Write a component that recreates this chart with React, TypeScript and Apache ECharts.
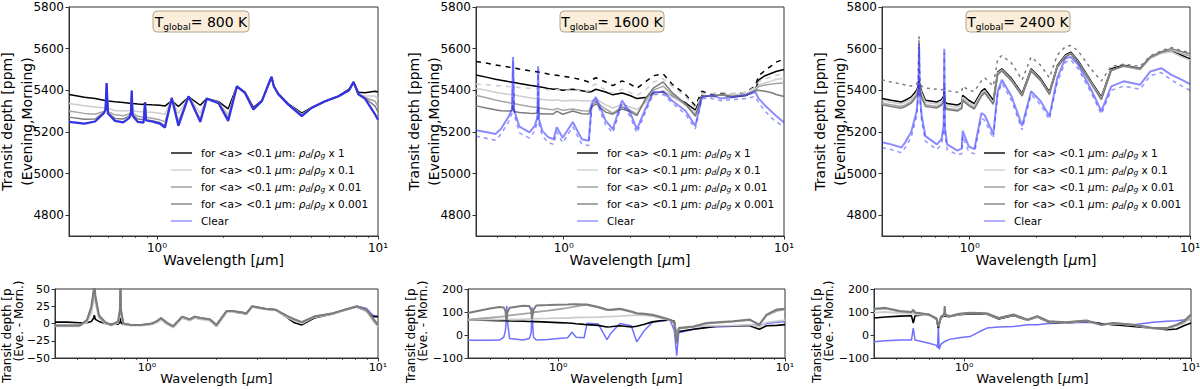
import React, { useEffect, useRef } from 'react';
import * as echarts from 'echarts';

const FONT = 'DejaVu Sans';

// ---------- Top panel 1 : T_global = 800 K ----------
const WL_T1 = [0.40, 0.47, 0.525, 0.575, 0.585, 0.592, 0.60, 0.646, 0.704, 0.75, 0.763, 0.769, 0.776, 0.82, 0.87, 0.883, 0.893, 0.95, 1.03, 1.087, 1.167, 1.25, 1.39, 1.57, 1.68, 1.90, 2.10, 2.30, 2.50, 2.73, 2.98, 3.21, 3.30, 3.38, 3.54, 3.93, 4.52, 5.02, 5.76, 6.62, 7.40, 7.75, 8.15, 8.73, 9.70, 10.0];
const T1_X1 = [5380, 5367, 5360, 5352, 5351, 5356, 5349, 5345, 5341, 5338, 5337, 5342, 5336, 5334, 5332, 5340, 5332, 5330, 5328, 5324, 5350, 5322, 5368, 5328, 5360, 5345, 5311, 5419, 5392, 5318, 5350, 5430, 5462, 5420, 5385, 5335, 5290, 5318, 5348, 5372, 5405, 5440, 5390, 5388, 5395, 5392];
const T1_X01 = [5336, 5326, 5320, 5316, 5318, 5410, 5312, 5303, 5300, 5303, 5308, 5388, 5302, 5298, 5296, 5330, 5296, 5294, 5290, 5285, 5360, 5288, 5370, 5290, 5360, 5342, 5285, 5419, 5390, 5312, 5348, 5432, 5460, 5418, 5382, 5332, 5284, 5316, 5346, 5370, 5400, 5438, 5382, 5372, 5372, 5358];
const T1_X001 = [5300, 5289, 5285, 5298, 5310, 5428, 5298, 5282, 5278, 5286, 5300, 5394, 5290, 5275, 5270, 5332, 5270, 5266, 5258, 5248, 5362, 5250, 5371, 5262, 5360, 5340, 5268, 5419, 5388, 5310, 5347, 5434, 5462, 5418, 5381, 5331, 5282, 5316, 5346, 5370, 5400, 5438, 5382, 5365, 5347, 5322];
const T1_X0001 = [5271, 5261, 5262, 5294, 5308, 5432, 5292, 5265, 5262, 5276, 5295, 5397, 5282, 5262, 5258, 5334, 5258, 5254, 5245, 5230, 5363, 5235, 5371, 5252, 5360, 5338, 5260, 5419, 5388, 5308, 5347, 5434, 5462, 5418, 5381, 5331, 5280, 5316, 5346, 5370, 5400, 5438, 5382, 5363, 5324, 5296];
const T1_CLEAR = [5248, 5240, 5250, 5290, 5305, 5435, 5288, 5253, 5246, 5267, 5290, 5399, 5278, 5248, 5245, 5340, 5255, 5250, 5240, 5221, 5363, 5229, 5371, 5248, 5360, 5338, 5253, 5419, 5387, 5308, 5347, 5435, 5465, 5418, 5381, 5331, 5276, 5316, 5347, 5371, 5400, 5440, 5381, 5360, 5284, 5258];

// ---------- Top panel 2 : T_global = 1600 K ----------
const WL_T2 = [0.40, 0.45, 0.49, 0.52, 0.56, 0.583, 0.589, 0.596, 0.63, 0.70, 0.74, 0.760, 0.766, 0.772, 0.80, 0.85, 0.90, 0.93, 0.99, 1.10, 1.21, 1.30, 1.34, 1.40, 1.55, 1.67, 1.84, 2.00, 2.15, 2.35, 2.55, 2.83, 3.10, 3.57, 3.96, 4.24, 4.70, 5.20, 5.80, 6.70, 7.41, 7.68, 8.20, 8.83, 9.20, 10.0];
const T2_X1 = [5473, 5462, 5453, 5448, 5442, 5439, 5440, 5437, 5432, 5424, 5420, 5418, 5419, 5417, 5414, 5409, 5405, 5406, 5400, 5405, 5398, 5392, 5394, 5405, 5392, 5378, 5387, 5375, 5360, 5365, 5385, 5394, 5372, 5340, 5305, 5375, 5370, 5380, 5368, 5375, 5400, 5450, 5470, 5483, 5490, 5500];
const T2_X1_M = [5538, 5530, 5522, 5518, 5512, 5509, 5510, 5507, 5502, 5494, 5490, 5488, 5489, 5487, 5484, 5478, 5474, 5472, 5468, 5460, 5450, 5440, 5450, 5460, 5440, 5422, 5445, 5430, 5410, 5440, 5470, 5478, 5430, 5380, 5325, 5395, 5380, 5385, 5380, 5390, 5420, 5470, 5495, 5520, 5535, 5550];
const T2_X01 = [5410, 5399, 5391, 5386, 5381, 5379, 5384, 5377, 5372, 5364, 5361, 5360, 5364, 5358, 5356, 5353, 5351, 5354, 5349, 5352, 5350, 5348, 5350, 5357, 5330, 5315, 5332, 5320, 5308, 5340, 5380, 5400, 5370, 5330, 5290, 5370, 5375, 5380, 5378, 5382, 5405, 5425, 5435, 5445, 5452, 5458];
const T2_X01_M = [5430, 5426, 5423, 5421, 5418, 5417, 5418, 5416, 5413, 5410, 5408, 5407, 5409, 5406, 5405, 5403, 5401, 5403, 5400, 5402, 5398, 5396, 5420, 5430, 5400, 5385, 5405, 5390, 5375, 5400, 5440, 5455, 5420, 5370, 5315, 5385, 5385, 5390, 5385, 5390, 5415, 5440, 5455, 5465, 5472, 5480];
const T2_X001 = [5376, 5363, 5353, 5347, 5341, 5338, 5352, 5336, 5330, 5322, 5318, 5320, 5338, 5315, 5313, 5309, 5306, 5313, 5304, 5310, 5302, 5300, 5330, 5345, 5310, 5290, 5320, 5305, 5285, 5350, 5400, 5420, 5380, 5330, 5280, 5370, 5372, 5378, 5372, 5378, 5400, 5418, 5425, 5430, 5433, 5435];
const T2_X0001 = [5325, 5314, 5306, 5302, 5300, 5302, 5328, 5298, 5293, 5290, 5289, 5292, 5320, 5287, 5287, 5286, 5286, 5300, 5285, 5300, 5287, 5286, 5320, 5335, 5295, 5285, 5310, 5298, 5278, 5360, 5410, 5440, 5390, 5335, 5275, 5370, 5372, 5378, 5370, 5376, 5398, 5400, 5395, 5388, 5380, 5370];
const T2_CLEAR = [5208, 5198, 5190, 5215, 5270, 5310, 5560, 5305, 5225, 5198, 5230, 5270, 5515, 5262, 5205, 5175, 5165, 5222, 5172, 5248, 5165, 5158, 5335, 5367, 5254, 5213, 5351, 5294, 5213, 5310, 5392, 5392, 5351, 5302, 5229, 5367, 5376, 5360, 5367, 5376, 5392, 5360, 5327, 5295, 5278, 5245];
const T2_CLEAR_M = [5180, 5168, 5160, 5190, 5245, 5290, 5540, 5285, 5195, 5170, 5205, 5250, 5500, 5240, 5180, 5150, 5140, 5200, 5148, 5225, 5140, 5135, 5320, 5350, 5235, 5195, 5335, 5275, 5195, 5295, 5380, 5380, 5340, 5285, 5215, 5360, 5360, 5350, 5355, 5360, 5370, 5340, 5300, 5265, 5250, 5225];

// ---------- Top panel 3 : T_global = 2400 K ----------
const WL_T3 = [0.40, 0.44, 0.49, 0.51, 0.543, 0.575, 0.585, 0.589, 0.594, 0.605, 0.63, 0.71, 0.745, 0.762, 0.767, 0.772, 0.79, 0.88, 0.92, 0.93, 0.99, 1.05, 1.13, 1.17, 1.28, 1.34, 1.40, 1.55, 1.73, 1.90, 2.10, 2.30, 2.50, 2.72, 2.88, 3.10, 3.57, 3.96, 4.39, 5.00, 5.94, 6.60, 7.41, 8.20, 9.20, 10.0];
const T3_X1 = [5360, 5352, 5344, 5352, 5368, 5400, 5425, 5445, 5425, 5395, 5352, 5344, 5355, 5372, 5392, 5345, 5336, 5329, 5340, 5376, 5352, 5336, 5395, 5408, 5352, 5487, 5503, 5456, 5384, 5503, 5456, 5392, 5519, 5570, 5583, 5543, 5440, 5368, 5503, 5520, 5505, 5559, 5583, 5590, 5567, 5551];
const T3_X01 = [5350, 5342, 5334, 5342, 5358, 5390, 5415, 5436, 5415, 5385, 5342, 5334, 5345, 5362, 5385, 5335, 5326, 5319, 5330, 5366, 5342, 5326, 5385, 5398, 5342, 5482, 5498, 5450, 5378, 5498, 5450, 5386, 5514, 5565, 5578, 5538, 5435, 5362, 5498, 5515, 5500, 5554, 5578, 5585, 5560, 5545];
const T3_X001 = [5338, 5330, 5322, 5330, 5346, 5380, 5405, 5430, 5405, 5374, 5330, 5322, 5334, 5352, 5380, 5324, 5314, 5307, 5318, 5356, 5332, 5316, 5378, 5392, 5336, 5478, 5495, 5447, 5375, 5495, 5448, 5382, 5512, 5562, 5576, 5536, 5432, 5358, 5495, 5515, 5500, 5555, 5580, 5592, 5575, 5565];
const T3_X0001 = [5330, 5322, 5314, 5322, 5338, 5372, 5400, 5428, 5400, 5366, 5322, 5315, 5328, 5346, 5378, 5318, 5308, 5300, 5312, 5350, 5326, 5310, 5372, 5388, 5332, 5475, 5493, 5445, 5372, 5493, 5446, 5380, 5510, 5560, 5575, 5535, 5430, 5355, 5495, 5518, 5505, 5560, 5585, 5600, 5585, 5575];
const T3_X0001_M = [5450, 5440, 5430, 5425, 5420, 5430, 5450, 5660, 5445, 5420, 5410, 5405, 5402, 5405, 5420, 5400, 5398, 5390, 5395, 5420, 5400, 5395, 5445, 5460, 5420, 5550, 5567, 5530, 5450, 5560, 5520, 5460, 5570, 5610, 5615, 5590, 5500, 5445, 5515, 5525, 5515, 5565, 5590, 5605, 5590, 5580];
const T3_CLEAR = [5150, 5140, 5125, 5150, 5200, 5300, 5400, 5625, 5390, 5280, 5180, 5140, 5165, 5230, 5600, 5220, 5140, 5110, 5120, 5205, 5130, 5117, 5290, 5280, 5190, 5395, 5450, 5370, 5229, 5395, 5347, 5276, 5459, 5554, 5560, 5525, 5400, 5300, 5419, 5443, 5427, 5490, 5506, 5475, 5450, 5430];
const T3_CLEAR_M = [5125, 5115, 5100, 5125, 5175, 5275, 5380, 5610, 5370, 5255, 5155, 5115, 5140, 5205, 5580, 5195, 5115, 5090, 5095, 5180, 5105, 5095, 5265, 5255, 5170, 5380, 5435, 5350, 5210, 5380, 5330, 5260, 5440, 5535, 5545, 5505, 5385, 5285, 5400, 5420, 5405, 5470, 5485, 5450, 5420, 5400];

// ---------- Bottom panel 1 : differences, 800 K ----------
const WL_B1 = [0.40, 0.45, 0.51, 0.55, 0.575, 0.588, 0.592, 0.598, 0.62, 0.66, 0.70, 0.75, 0.764, 0.768, 0.772, 0.79, 0.85, 0.95, 1.05, 1.10, 1.15, 1.22, 1.30, 1.42, 1.53, 1.61, 1.70, 1.87, 2.00, 2.21, 2.35, 2.70, 2.85, 3.30, 3.60, 4.03, 4.35, 4.68, 5.30, 6.41, 7.20, 8.10, 8.90, 9.50, 10.0];
const B1_X1 = [2, 2, 1, 1, 3, 8, 12, 6, 3, 0, -1, -1, 2, 8, 1, -1, -2, -2, -1, 2, 6, 0, -5, 8, 5, 8, 7, 5, -4, 17, 17, 14, 24, 21, 20, 9, 1, -2, 8, 14, 20, 24, 18, 10, 10];
const B1_X01 = [-4, -4, -4, 2, 15, 35, 50, 30, 8, 0, -3, 1, 12, 55, 12, -1, -3, -3, -1, 1, 5, -1, -6, 8, 4, 8, 6, 4, -4, 16, 17, 14, 24, 20, 19, 9, 4, 0, 9, 14, 19, 24, 18, 4, -5];
const B1_X001 = [-3, -3, -3, 4, 22, 45, 60, 38, 10, 1, -2, 2, 18, 60, 18, 0, -2, -2, 0, 3, 8, 1, -4, 10, 6, 10, 8, 6, -2, 18, 18, 15, 25, 21, 20, 11, 6, 2, 10, 15, 20, 25, 20, 6, -3];
const B1_X0001 = [-3, -3, -3, 5, 25, 48, 60, 40, 12, 2, -2, 3, 20, 60, 20, 0, -2, -2, 0, 3, 8, 1, -4, 10, 6, 10, 8, 6, -2, 18, 18, 15, 25, 21, 20, 11, 6, 2, 10, 15, 20, 25, 20, 8, -2];
const B1_CLEAR = [-3, -3, -3, 4, 22, 45, 60, 38, 10, 1, -2, 2, 18, 60, 18, 0, -2, -2, 0, 3, 8, 1, -4, 10, 6, 10, 8, 6, -2, 18, 18, 15, 25, 21, 20, 11, 6, 2, 10, 15, 20, 25, 22, 12, 10];

// ---------- Bottom panel 2 : differences, 1600 K ----------
const WL_B2 = [0.40, 0.50, 0.55, 0.575, 0.585, 0.590, 0.593, 0.597, 0.61, 0.70, 0.745, 0.760, 0.766, 0.770, 0.778, 0.80, 0.90, 1.00, 1.10, 1.15, 1.20, 1.30, 1.34, 1.50, 1.64, 1.70, 1.87, 2.10, 2.22, 2.40, 2.60, 2.81, 3.11, 3.25, 3.33, 3.40, 3.95, 4.50, 5.00, 5.90, 7.00, 7.70, 8.30, 9.20, 10.0];
const B2_X1 = [66, 63, 62, 62, 62, 62, 62, 62, 61, 60, 59, 59, 59, 59, 58, 58, 56, 54, 52, 51, 49, 46, 45, 42, 35, 36, 40, 35, 38, 47, 57, 62, 65, 60, -10, 15, 25, 32, 38, 40, 40, 25, 40, 42, 45];
const B2_X01 = [66, 67, 67, 68, 68, 68, 68, 68, 68, 69, 70, 70, 70, 70, 70, 71, 72, 73, 74, 75, 76, 77, 77, 78, 80, 80, 82, 85, 86, 85, 82, 75, 65, 55, -20, 30, 35, 40, 40, 42, 45, 35, 55, 60, 65];
const B2_X001 = [67, 75, 79, 81, 82, 83, 83, 84, 85, 92, 95, 96, 97, 97, 98, 100, 106, 112, 118, 121, 125, 130, 130, 120, 108, 108, 112, 100, 93, 90, 85, 77, 65, 52, -30, 28, 35, 50, 53, 58, 65, 43, 85, 105, 110];
const B2_X0001 = [96, 115, 122, 120, 105, 70, 66, 100, 118, 127, 126, 108, 70, 70, 110, 128, 130, 132, 133, 134, 134, 133, 133, 122, 111, 110, 114, 102, 95, 92, 88, 79, 67, 55, -36, 30, 37, 52, 55, 60, 67, 45, 89, 111, 114];
const B2_CLEAR = [-23, -23, -22, -10, 20, 70, 126, 60, -15, -22, -15, 10, 120, 60, -10, -22, -20, -15, -12, 12, -10, -12, 51, 48, -20, 5, 50, 40, -30, 20, 55, 60, 65, 20, -90, 10, 25, 35, 35, 38, 45, 40, 50, 55, 58];

// ---------- Bottom panel 3 : differences, 2400 K ----------
const WL_B3 = [0.40, 0.45, 0.52, 0.585, 0.596, 0.607, 0.70, 0.755, 0.763, 0.769, 0.775, 0.79, 0.815, 0.82, 0.825, 0.86, 0.95, 1.06, 1.17, 1.26, 1.42, 1.65, 1.90, 2.10, 2.35, 2.80, 3.46, 4.00, 4.55, 5.57, 6.82, 7.81, 8.64, 9.30, 10.0];
const B3_X1 = [74, 78, 82, 84, 52, 84, 89, 68, 45, 30, 45, 75, 82, 85, 82, 80, 88, 92, 91, 90, 70, 85, 64, 78, 56, 52, 60, 50, 45, 37, 30, 23, 26, 40, 52];
const B3_X01 = [97, 100, 95, 92, 95, 90, 85, 70, 52, 40, 52, 76, 86, 88, 86, 80, 90, 95, 94, 92, 72, 87, 65, 80, 58, 53, 61, 43, 50, 43, 28, 28, 40, 52, 75];
const B3_X001 = [112, 115, 102, 98, 105, 96, 88, 70, 50, 38, 50, 78, 88, 100, 88, 81, 91, 96, 95, 93, 73, 88, 66, 81, 59, 54, 62, 44, 51, 44, 29, 29, 42, 55, 80];
const B3_X0001 = [114, 118, 104, 100, 110, 98, 89, 72, 50, 37, 50, 80, 89, 126, 89, 82, 92, 97, 96, 94, 74, 89, 67, 82, 60, 55, 63, 45, 52, 45, 30, 30, 45, 60, 89];
const B3_CLEAR = [-29, -25, -22, -22, 30, -22, -36, -45, -55, 37, -63, -40, -30, -28, -28, -19, -12, -7, 15, 30, 35, 37, 45, 45, 50, 52, 55, 50, 45, 45, 55, 60, 62, 65, 67];

// ---------- ticks, labels ----------
const X_MAJOR_WL = [1, 10];
const X_MINOR_WL = [0.5, 0.6, 0.7, 0.8, 0.9, 2, 3, 4, 5, 6, 7, 8, 9];
const TOP_Y_TICKS = [4800, 5000, 5200, 5400, 5600, 5800];
const B1_Y_TICKS = [-50, -25, 0, 25, 50];
const B23_Y_TICKS = [-100, 0, 100, 200];
const TEMPS = ['800 K', '1600 K', '2400 K'];
const LEGEND_NAMES = ['x1', 'x0.1', 'x0.01', 'x0.001', 'Clear'];
const LEGEND_FACTORS = ['1', '0.1', '0.01', '0.001'];

const C_BLACK = '#000000';
const C_LGRAY = '#cdcdcd';
const C_GRAY = '#a5a5a5';
const C_DGRAY = '#7c7c7c';
const C_BLUE = '#2c2cff';
const LEG_COLORS = ['#222222', '#d6d6d6', '#a8a8a8', '#929292', '#9d9dff'];

const GRIDS = [
  { left: 69, top: 7, width: 309, height: 229 },
  { left: 476, top: 7, width: 308, height: 229 },
  { left: 882, top: 7, width: 308, height: 229 },
  { left: 55, top: 289, width: 323, height: 69 },
  { left: 468, top: 289, width: 317, height: 69 },
  { left: 874, top: 289, width: 317, height: 69 },
];
const LEGEND_LEFT = [171, 577, 984];
const TITLE_BOX = [
  { x: 153, w: 96 },
  { x: 560, w: 104 },
  { x: 966, w: 104 },
];
const BOTTOM_LABEL_X = [7, 411, 817];

const LMIN = Math.log10(0.4);
const LMAX = 1;
const AX = '#333333';

const toPts = (wl: number[], v: number[]) => wl.map((w, i) => [Math.log10(w), v[i]]);

function ln(name: string, g: number, wl: number[], v: number[], color: string, width: number, opts: any = {}) {
  return {
    type: 'line',
    name,
    xAxisIndex: 2 * g,
    yAxisIndex: g,
    data: toPts(wl, v),
    symbol: 'none',
    showSymbol: false,
    silent: true,
    clip: true,
    lineStyle: { color, width, type: opts.dash || 'solid', opacity: opts.opacity ?? 1 },
    itemStyle: { color },
    emphasis: { disabled: true },
    z: 2,
  };
}

const yFmt = (v: number) => (v < 0 ? '\u2212' + Math.abs(v) : String(v));

function buildOption() {
  const grid = GRIDS.map((g) => ({
    ...g,
    show: true,
    borderColor: AX,
    borderWidth: 1,
    backgroundColor: 'transparent',
    containLabel: false,
    outerBoundsMode: 'none',
  }));

  const xAxis: any[] = [];
  const yAxis: any[] = [];
  GRIDS.forEach((_, i) => {
    const top = i < 3;
    const fs = top ? 12 : 11;
    xAxis.push({
      type: 'value',
      gridIndex: i,
      min: LMIN,
      max: LMAX,
      position: 'bottom',
      axisLine: { show: true, onZero: false, lineStyle: { color: AX, width: 1 } },
      axisTick: { show: true, length: 3.5, customValues: X_MAJOR_WL.map(Math.log10), lineStyle: { color: AX, width: 1 } },
      axisLabel: {
        show: true,
        customValues: X_MAJOR_WL.map(Math.log10),
        formatter: (v: number) => (v < 0.5 ? '10\u2070' : '10\u00b9'),
        fontFamily: FONT,
        fontSize: fs,
        color: '#000',
        margin: top ? 6 : 4,
        showMinLabel: true,
        showMaxLabel: true,
        hideOverlap: false,
      },
      splitLine: { show: false },
      name: '{n|Wavelength [}{i|\u03bc}{n|m]}',
      nameLocation: 'middle',
      nameGap: top ? 17 : 14,
      nameMoveOverlap: false,
      nameTextStyle: {
        fontFamily: FONT,
        fontSize: top ? 14 : 13,
        color: '#000',
        rich: {
          n: { fontFamily: FONT, fontSize: top ? 14 : 13, color: '#000' },
          i: { fontFamily: FONT, fontSize: top ? 14 : 13, color: '#000', fontStyle: 'italic' },
        },
      },
    });
    xAxis.push({
      type: 'value',
      gridIndex: i,
      min: LMIN,
      max: LMAX,
      position: 'bottom',
      axisLine: { show: false, onZero: false },
      axisLabel: { show: false },
      splitLine: { show: false },
      axisTick: { show: true, length: 2, customValues: X_MINOR_WL.map(Math.log10), lineStyle: { color: AX, width: 0.8 } },
    });
    const ticks = top ? TOP_Y_TICKS : i === 3 ? B1_Y_TICKS : B23_Y_TICKS;
    yAxis.push({
      type: 'value',
      gridIndex: i,
      min: top ? 4700 : ticks[0],
      max: ticks[ticks.length - 1],
      axisLine: { show: true, onZero: false, lineStyle: { color: AX, width: 1 } },
      axisTick: { show: true, length: 3.5, customValues: ticks, lineStyle: { color: AX, width: 1 } },
      axisLabel: {
        show: true,
        customValues: ticks,
        formatter: yFmt,
        fontFamily: FONT,
        fontSize: fs,
        lineHeight: top ? 12 : 11,
        color: '#000',
        margin: 5,
        hideOverlap: false,
      },
      splitLine: { show: false },
      ...(top
        ? {
            name: 'Transit depth [ppm]\n(Evening,Morning)',
            nameLocation: 'middle',
            nameRotate: 90,
            nameGap: 32,
            nameMoveOverlap: false,
            nameTextStyle: { fontFamily: FONT, fontSize: 14, lineHeight: 20, color: '#000' },
          }
        : {}),
    });
  });

  const series: any[] = [
    // panel 1
    ln('x1', 0, WL_T1, T1_X1, C_BLACK, 1.5),
    ln('x0.1', 0, WL_T1, T1_X01, C_LGRAY, 1.5),
    ln('x0.01', 0, WL_T1, T1_X001, C_GRAY, 1.5),
    ln('x0.001', 0, WL_T1, T1_X0001, C_DGRAY, 1.5),
    ln('Clear', 0, WL_T1, T1_CLEAR, '#3232e6', 2.2),
    // panel 2
    ln('x1', 1, WL_T2, T2_X1, C_BLACK, 1.5),
    ln('x1 morning', 1, WL_T2, T2_X1_M, C_BLACK, 1.5, { dash: [5, 5] }),
    ln('x0.1', 1, WL_T2, T2_X01, C_LGRAY, 1.5),
    ln('x0.1 morning', 1, WL_T2, T2_X01_M, C_LGRAY, 1.5, { dash: [5, 5] }),
    ln('x0.01', 1, WL_T2, T2_X001, C_GRAY, 1.5),
    ln('x0.001', 1, WL_T2, T2_X0001, C_DGRAY, 1.5),
    ln('Clear', 1, WL_T2, T2_CLEAR, C_BLUE, 2, { opacity: 0.55 }),
    ln('Clear morning', 1, WL_T2, T2_CLEAR_M, C_BLUE, 1.5, { dash: [4, 4], opacity: 0.5 }),
    // panel 3
    ln('x1', 2, WL_T3, T3_X1, C_BLACK, 1.5),
    ln('x0.1', 2, WL_T3, T3_X01, C_LGRAY, 1.5),
    ln('x0.01', 2, WL_T3, T3_X001, C_GRAY, 1.5),
    ln('x0.001', 2, WL_T3, T3_X0001, C_DGRAY, 1.5),
    ln('x0.001 morning', 2, WL_T3, T3_X0001_M, C_DGRAY, 1.5, { dash: [3, 4] }),
    ln('Clear', 2, WL_T3, T3_CLEAR, C_BLUE, 2, { opacity: 0.55 }),
    ln('Clear morning', 2, WL_T3, T3_CLEAR_M, C_BLUE, 1.5, { dash: [4, 4], opacity: 0.5 }),
    // bottom 1
    ln('Clear', 3, WL_B1, B1_CLEAR, '#7070ff', 1.5),
    ln('x1', 3, WL_B1, B1_X1, C_BLACK, 1.6),
    ln('x0.1', 3, WL_B1, B1_X01, C_LGRAY, 1.8),
    ln('x0.01', 3, WL_B1, B1_X001, C_GRAY, 1.8),
    ln('x0.001', 3, WL_B1, B1_X0001, C_DGRAY, 2),
    // bottom 2
    ln('Clear', 4, WL_B2, B2_CLEAR, '#7070ff', 1.5),
    ln('x1', 4, WL_B2, B2_X1, C_BLACK, 1.6),
    ln('x0.1', 4, WL_B2, B2_X01, C_LGRAY, 1.8),
    ln('x0.01', 4, WL_B2, B2_X001, C_GRAY, 1.8),
    ln('x0.001', 4, WL_B2, B2_X0001, C_DGRAY, 2),
    // bottom 3
    ln('Clear', 5, WL_B3, B3_CLEAR, '#7070ff', 1.5),
    ln('x1', 5, WL_B3, B3_X1, C_BLACK, 1.6),
    ln('x0.1', 5, WL_B3, B3_X01, C_LGRAY, 1.8),
    ln('x0.01', 5, WL_B3, B3_X001, C_GRAY, 1.8),
    ln('x0.001', 5, WL_B3, B3_X0001, C_DGRAY, 2),
  ];

  const legLabel = (name: string) => {
    const idx = LEGEND_NAMES.indexOf(name);
    if (idx === 4) return 'Clear';
    return `for <a> <0.1 {i|\u03bc}m: {i|\u03c1}{s|d}/{i|\u03c1}{s|g} x ${LEGEND_FACTORS[idx]}`;
  };

  const legend = LEGEND_LEFT.map((left) => ({
    left,
    top: 146.5,
    orient: 'vertical',
    padding: 0,
    itemWidth: 21,
    itemHeight: 1.6,
    itemGap: 4,
    selectedMode: false,
    icon: 'rect',
    data: LEGEND_NAMES.map((n, i) => ({
      name: n,
      icon: 'rect',
      itemStyle: { color: LEG_COLORS[i], opacity: 1, borderWidth: 0 },
    })),
    formatter: legLabel,
    textStyle: {
      fontFamily: FONT,
      fontSize: 10.5,
      lineHeight: 13,
      color: '#000',
      padding: [0, 0, 0, 4],
      rich: {
        i: { fontFamily: FONT, fontSize: 10.5, lineHeight: 13, fontStyle: 'italic', color: '#000' },
        s: { fontFamily: FONT, fontSize: 7.5, lineHeight: 13, fontStyle: 'italic', verticalAlign: 'bottom', color: '#000' },
      },
    },
  }));

  const graphic: any[] = [];
  TITLE_BOX.forEach((b, i) => {
    graphic.push({
      type: 'rect',
      silent: true,
      z: 100,
      shape: { x: b.x, y: 11, width: b.w, height: 21, r: 4 },
      style: { fill: '#faeedb', stroke: '#b1a48e', lineWidth: 1 },
    });
    graphic.push({
      type: 'text',
      silent: true,
      z: 101,
      x: b.x + b.w / 2,
      y: 21.5,
      style: {
        text: `{t|T}{s|global}{t|= ${TEMPS[i]}}`,
        align: 'center',
        verticalAlign: 'middle',
        textAlign: 'center',
        textVerticalAlign: 'middle',
        rich: {
          t: { fontFamily: FONT, fontSize: 14, lineHeight: 14, fill: '#000' },
          s: { fontFamily: FONT, fontSize: 9, lineHeight: 20, fill: '#000', verticalAlign: 'bottom' },
        },
      },
    });
  });
  BOTTOM_LABEL_X.forEach((x) => {
    graphic.push({
      type: 'text',
      silent: true,
      z: 50,
      x,
      y: 383,
      rotation: Math.PI / 2,
      style: {
        text: 'Transit depth [ppm]',
        fontFamily: FONT,
        fontSize: 12,
        fill: '#000',
        align: 'left',
        verticalAlign: 'middle',
        textAlign: 'left',
        textVerticalAlign: 'middle',
        width: 105,
        overflow: 'truncate',
        ellipsis: '',
      },
    });
    graphic.push({
      type: 'text',
      silent: true,
      z: 50,
      x: x + 12,
      y: 321,
      rotation: Math.PI / 2,
      style: {
        text: '(Eve. - Morn.)',
        fontFamily: FONT,
        fontSize: 12,
        fill: '#000',
        align: 'center',
        verticalAlign: 'middle',
        textAlign: 'center',
        textVerticalAlign: 'middle',
      },
    });
  });

  return {
    animation: false,
    backgroundColor: '#ffffff',
    textStyle: { fontFamily: FONT },
    grid,
    xAxis,
    yAxis,
    series,
    legend,
    graphic,
    tooltip: { show: false },
  };
}

function App() {
  const ref = useRef<HTMLDivElement>(null);
  useEffect(() => {
    document.body.style.margin = '0';
    const chart = echarts.init(ref.current as HTMLDivElement, null, { renderer: 'svg' });
    chart.setOption(buildOption() as any);
    return () => {
      chart.dispose();
    };
  }, []);
  return <div ref={ref} style={{ width: 1200, height: 389 }} />;
}

export default App;
